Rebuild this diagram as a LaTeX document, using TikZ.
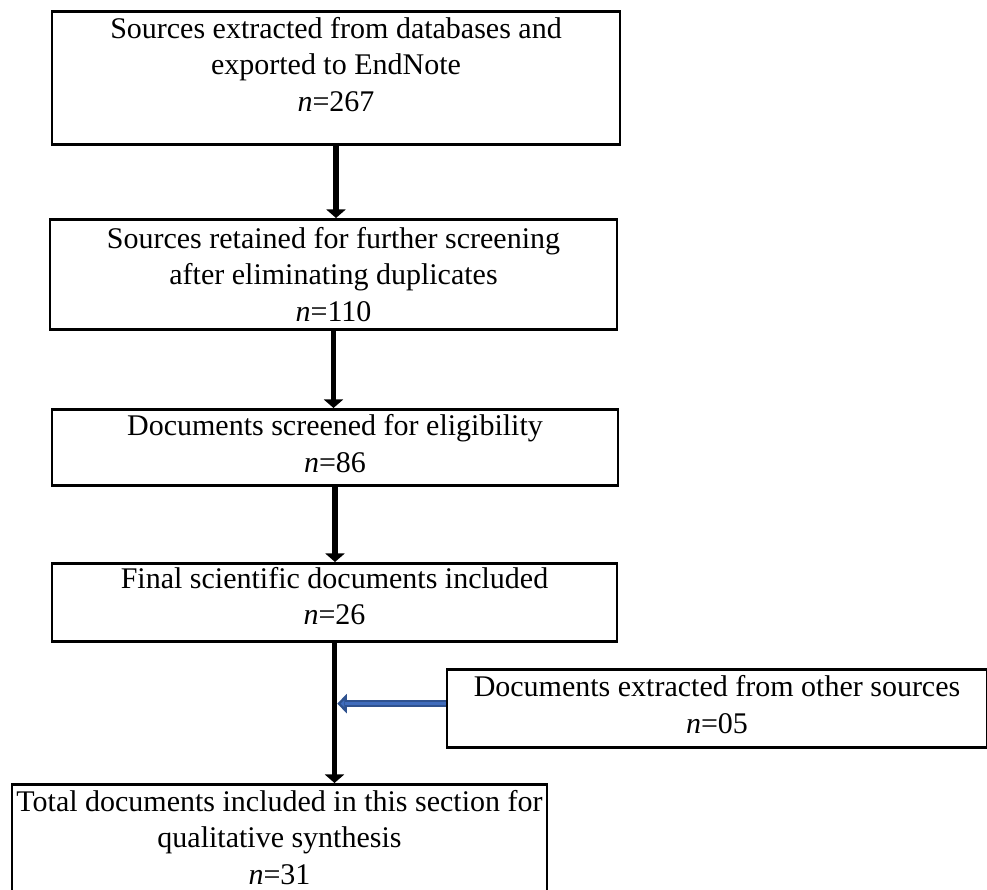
\documentclass[tikz,border=0pt]{standalone}
\usepackage{fontspec}
\setmainfont{Liberation Serif}
\definecolor{ink}{RGB}{0,0,0}
\definecolor{sideblue}{RGB}{64,108,188}
\definecolor{sideedge}{RGB}{47,82,143}
\usetikzlibrary{arrows.meta,positioning}
\newcommand{\lift}[1]{\rule{0pt}{#1}}
\tikzset{
  box/.style={draw=ink, line width=1.1pt, inner sep=0pt, anchor=north,
              font=\fontsize{12}{14.6}\selectfont, align=center},
  flow/.style={-{Triangle[width=7.6pt,length=3.4pt]}, ink, line width=2.2pt},
  sideflow/.style={-{Triangle[width=7.6pt,length=3.8pt,fill=sideblue]}, sideedge, line width=2.8pt},
}

\begin{document}
\begin{tikzpicture}[x=0.4pt, y=-0.4pt]
    \useasboundingbox (0,0) rectangle (987,890);
    \node[box, text depth=13.2pt, minimum width=227.2pt] (extracted) at (336,10)
      {\lift{10.8pt}Sources extracted from databases and\\exported to EndNote\\\textit{n}=267};
    \node[box, text depth=3.2pt, minimum width=226.8pt] (retained) at (333.5,218)
      {\lift{11.6pt}Sources retained for further screening\\after eliminating duplicates\\\textit{n}=110};
    \node[box, text depth=5.4pt, minimum width=226.4pt] (screened) at (335,408)
      {\lift{10.6pt}Documents screened for eligibility\\\textit{n}=86};
    \node[box, text depth=6.6pt, minimum width=226pt] (final) at (334.5,562)
      {\lift{10pt}Final scientific documents included\\\textit{n}=26};
    \node[box, text depth=5.8pt, minimum width=216pt] (other) at (717,668)
      {\lift{11pt}Documents extracted from other sources\\\textit{n}=05};
    \node[box, text depth=3.6pt, minimum width=214pt] (total) at (279.5,783)
      {\lift{10.8pt}Total documents included in this section for\\qualitative synthesis\\\textit{n}=31};
    \draw[flow] (extracted.south) -- (extracted.south |- retained.north);
    \draw[flow] (retained.south) -- (retained.south |- screened.north);
    \draw[flow] (screened.south) -- (screened.south |- final.north);
    \draw[flow] (final.south) -- (final.south |- total.north);
    \draw[sideflow, shorten >=1.1pt] ([yshift=2pt]other.west) -- ([yshift=2pt]other.west -| final.south);
    \draw[sideblue, line width=1.2pt, shorten >=4.2pt] ([yshift=2pt]other.west) -- ([yshift=2pt]other.west -| final.south);
  \end{tikzpicture}
\end{document}
